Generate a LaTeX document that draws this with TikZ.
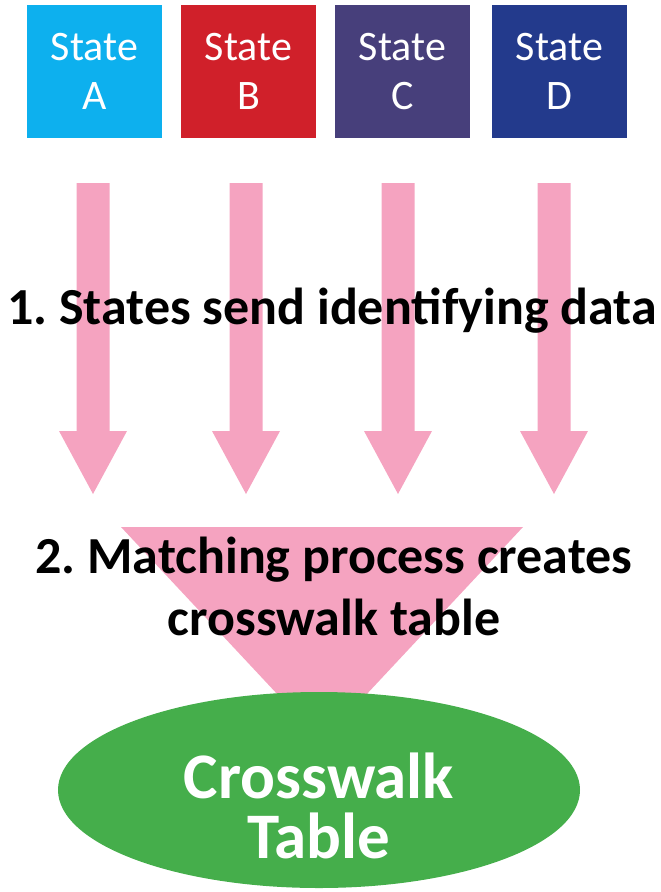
\documentclass[tikz,border=0pt]{standalone}
\usepackage{fontspec}
\setmainfont{Carlito}
\usetikzlibrary{shapes.geometric}
\definecolor{stA}{HTML}{0DB0EE}
\definecolor{stB}{HTML}{D0202A}
\definecolor{stC}{HTML}{473F7B}
\definecolor{stD}{HTML}{233A8C}
\definecolor{pinkarrow}{HTML}{F5A3C0}
\definecolor{tablegreen}{HTML}{45AE4B}
\tikzset{
  statebox/.style={minimum width=135pt, minimum height=133pt, inner sep=0pt, text=white,
    font=\fontsize{42}{49}\selectfont, align=center},
  arrowfill/.style={fill=pinkarrow, draw=none},
  bigtext/.style={font=\frenchspacing\bfseries\fontsize{52}{62}\selectfont, align=center, text=black, inner sep=0pt},
}
\begin{document}
\begin{tikzpicture}[x=1pt,y=-1pt]
\useasboundingbox (0,0) rectangle (661,892);
% state boxes
\node[statebox, fill=stA] (A) at (94.5,71.5) {State\\A};
\node[statebox, fill=stB] (B) at (248.5,71.5) {State\\B};
\node[statebox, fill=stC] (C) at (402.5,71.5) {State\\C};
\node[statebox, fill=stD] (D) at (559.5,71.5) {State\\D};
% arrows
\foreach \cx/\n in {93/aA,246/aB,398/aC,554/aD}{
  \fill[arrowfill] (\cx-16.5,183) -- (\cx+16.5,183) -- (\cx+16.5,431) -- (\cx+34,431)
     -- (\cx,494) -- (\cx-34,431) -- (\cx-16.5,431) -- cycle;
  \coordinate (\n) at (\cx,494);
}
% big triangle
\fill[arrowfill] (121,527) -- (523,527) -- (322,742) -- cycle;
\coordinate (tri) at (322,742);
% texts
\node[bigtext] (step1) at (332,311) {1. States send identifying data};
\node[bigtext] (step2) at (334,586) {2. Matching process creates\\crosswalk table};
% ellipse
\node[ellipse, fill=tablegreen, minimum width=522pt, minimum height=196pt, inner sep=0pt] (tbl) at (319,790) {};
\node[text=white, font=\bfseries\fontsize{65}{60}\selectfont, align=center, inner sep=0pt,
  yshift=-16pt] (tbltxt) at (tbl.center) {Crosswalk\\Table};
\end{tikzpicture}
\end{document}
